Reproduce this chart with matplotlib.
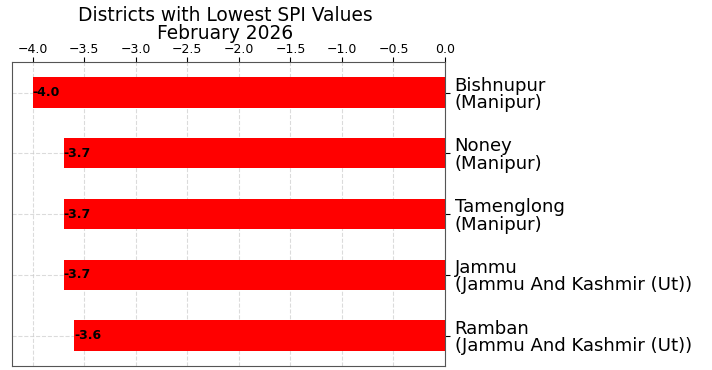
import matplotlib
matplotlib.use("Agg")
import matplotlib.pyplot as plt

plt.rcParams["font.family"] = ["DejaVu Sans"]

districts = [
    "Bishnupur\n(Manipur)",
    "Noney\n(Manipur)",
    "Tamenglong\n(Manipur)",
    "Jammu\n(Jammu And Kashmir (Ut))",
    "Ramban\n(Jammu And Kashmir (Ut))",
]
spi_values = [-4.0, -3.7, -3.7, -3.7, -3.6]

fig = plt.figure(figsize=(7.12, 3.70), dpi=100)
ax = fig.add_axes([0.017, 0.011, 0.608, 0.821])

positions = list(range(len(districts)))
ax.barh(positions, spi_values, height=0.5, color="red", zorder=2)

for pos, val in zip(positions, spi_values):
    ax.text(val, pos, f"{val:.1f}", ha="left", va="center",
            fontsize=9, fontweight="bold", color="black", zorder=3)

ax.set_xlim(-4.2, 0.0)
ax.set_ylim(4.5, -0.5)
ax.set_yticks(positions)
ax.set_yticklabels(districts, fontsize=13.1, linespacing=0.97)
ax.yaxis.tick_right()
ax.xaxis.tick_top()
ax.tick_params(axis="x", labelsize=9, pad=1)
ax.grid(True, linestyle="--", color="#cccccc", alpha=0.7, zorder=0)
for spine in ax.spines.values():
    spine.set_color("#555555")

fig.text(0.316, 0.935, "Districts with Lowest SPI Values\nFebruary 2026",
         ha="center", va="center", fontsize=13.4, linespacing=0.93)

fig.savefig("out.png", dpi=100)
